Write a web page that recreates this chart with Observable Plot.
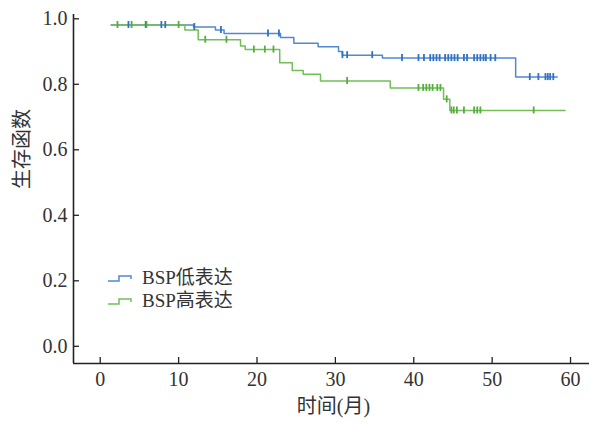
<!DOCTYPE html>
<html><head><meta charset="utf-8">
<script src="https://cdn.jsdelivr.net/npm/d3@7"></script>
<script src="https://cdn.jsdelivr.net/npm/@observablehq/plot@0.6"></script>
<style>
body{margin:0;background:#fff;}
#wrap{position:relative;width:589px;height:423px;}
#legend{position:absolute;left:107px;top:266px;font-family:"Liberation Serif","Noto Sans CJK SC",serif;font-size:19px;color:#333;line-height:23px;}
#legend div{display:flex;align-items:center;}
#legend svg{margin-right:9px;}
</style>
</head><body>
<div id="wrap"><div id="chart"></div><div id="legend"></div></div>
<script>
// Series names
const groups = ["BSP低表达", "BSP高表达"];
const colors = ["#5189cf", "#72bf58"];
const tickColors = ["#2f72c4", "#55ad3c"];

// Kaplan-Meier step points (time in months, survival)
const lowT = [1.4, 11.9, 14.7, 15.8, 23.0, 24.7, 27.8, 30.4, 30.9, 36.0, 53.0, 58.3];
const lowS = [0.981, 0.975, 0.966, 0.955, 0.943, 0.925, 0.915, 0.900, 0.889, 0.880, 0.822, 0.822];
const highT = [1.4, 10.8, 12.5, 17.9, 18.5, 22.9, 24.5, 25.9, 28.1, 37.0, 43.8, 44.6, 59.3];
const highS = [0.981, 0.966, 0.936, 0.917, 0.906, 0.866, 0.842, 0.831, 0.810, 0.789, 0.754, 0.720, 0.720];

// Censoring times
const lowCens = [3.6, 5.8, 7.8, 8.3, 12.0, 15.4, 21.4, 22.8, 30.9, 31.5, 34.7, 38.5, 40.6, 41.3, 42.1, 42.5, 42.9, 43.3, 44.0, 44.4, 44.8, 45.2, 45.6, 46.4, 46.8, 47.7, 48.1, 48.5, 48.9, 49.2, 49.8, 50.4, 54.8, 55.9, 56.8, 57.1, 57.4, 57.8];
const highCens = [2.2, 4.0, 5.9, 10.0, 13.4, 16.1, 19.6, 21.0, 22.1, 31.5, 40.6, 41.2, 41.6, 42.0, 42.4, 43.0, 43.4, 44.2, 44.8, 45.1, 45.5, 46.4, 47.7, 48.1, 48.5, 55.3];

// Axis ticks
const xTicks = [0, 10, 20, 30, 40, 50, 60];
const yTicks = [0, 0.2, 0.4, 0.6, 0.8, 1.0];
const xLabel = "时间(月)";
const yLabel = "生存函数";

const xDomain = [-3.41, 62.42];
const yDomain = [-0.0525, 1.0131];

function survAt(T, S, t) {
  let s = S[0];
  for (let i = 0; i < T.length; i++) if (T[i] <= t) s = S[i];
  return s;
}
const curves = [];
const cens = [];
[[lowT, lowS, lowCens], [highT, highS, highCens]].forEach(([T, S, C], g) => {
  T.forEach((t, i) => curves.push({g: groups[g], t, s: S[i]}));
  C.forEach(t => cens.push({g: groups[g], t, s: survAt(T, S, t)}));
});

const font = '"Liberation Serif","Noto Sans CJK SC",serif';
const chart = Plot.plot({
  width: 589, height: 423,
  marginLeft: 73, marginRight: 0, marginTop: 14, marginBottom: 60,
  style: {fontFamily: font, fontSize: "20px", color: "#333", background: "#fff"},
  x: {domain: xDomain},
  y: {domain: yDomain},
  color: {domain: groups, range: colors},
  marks: [
    Plot.axisX({ticks: xTicks, tickSize: 0, tickPadding: 8, tickFormat: d3.format("d"), label: null}),
    Plot.axisY({ticks: yTicks, tickSize: 0, tickPadding: 6, tickFormat: d3.format(".1f"), label: null}),
    Plot.ruleX(xTicks, {x: d => d, y1: yDomain[0], y2: yDomain[0], insetTop: -6, stroke: "#222", strokeWidth: 1.3}),
    Plot.ruleY(yTicks, {y: d => d, x1: xDomain[0], x2: xDomain[0], insetRight: -6, stroke: "#222", strokeWidth: 1.3}),
    Plot.ruleX([xDomain[0]], {stroke: "#222", strokeWidth: 1.6}),
    Plot.ruleY([yDomain[0]], {stroke: "#222", strokeWidth: 1.6}),
    Plot.line(curves, {x: "t", y: "s", z: "g", stroke: "g", curve: "step-after", strokeWidth: 1.5}),
    Plot.ruleX(cens, {x: "t", y1: "s", y2: "s", insetTop: -3.5, insetBottom: -3.5, stroke: d => d.g === groups[0] ? tickColors[0] : tickColors[1], strokeWidth: 1.8}),
    Plot.text([xLabel], {frameAnchor: "bottom", dx: 2, dy: 49, fontSize: 20, fill: "#333"}),
    Plot.text([yLabel], {frameAnchor: "left", dx: -51, rotate: -90, fontSize: 20, fill: "#333"})
  ]
});
document.getElementById("chart").appendChild(chart);

const leg = document.getElementById("legend");
groups.forEach((g, i) => {
  const row = document.createElement("div");
  row.innerHTML = `<svg width="26" height="10"><path d="M1,8H12V3H24V6" fill="none" stroke="${colors[i]}" stroke-width="1.5"/></svg><span>${g}</span>`;
  leg.appendChild(row);
});
</script>
</body></html>
